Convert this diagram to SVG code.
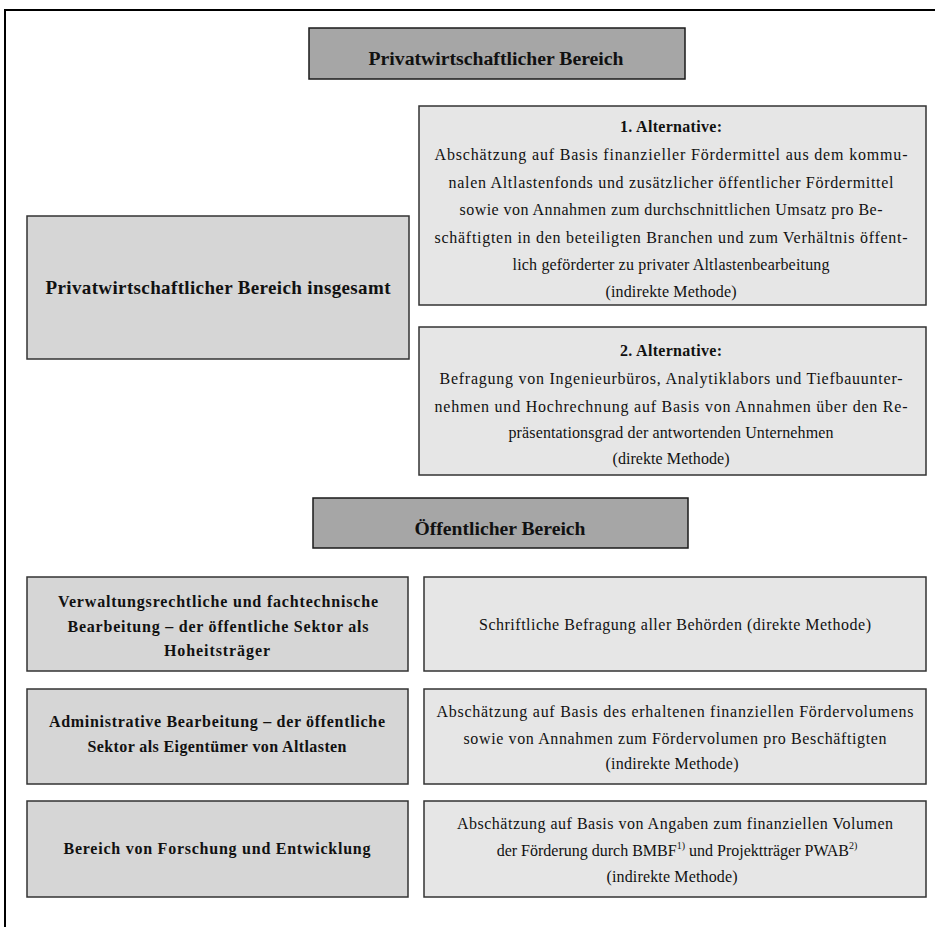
<svg xmlns="http://www.w3.org/2000/svg" width="935" height="927" viewBox="0 0 935 927">
  <style>
    .frame { fill: none; stroke: #000; stroke-width: 2; }
    .hdr { fill: #a6a6a6; stroke: #1a1a1a; stroke-width: 1.5; }
    .lft { fill: #d6d6d6; stroke: #333; stroke-width: 1.5; }
    .rgt { fill: #e6e6e6; stroke: #333; stroke-width: 1.5; }
    .h, .big, .b, .t { font-family: "Liberation Serif", serif; fill: #111; text-anchor: middle; }
    .h { font-size: 18px; font-weight: bold; }
    .big { font-size: 19px; font-weight: bold; }
    .b { font-size: 16px; font-weight: bold; }
    .t { font-size: 16px; }
    .sup { font-size: 10px; }
  </style>

  <!-- page frame (only top and left edges fall inside the sheet) -->
  <path class="frame" d="M5,927 V10 H935"/>

  <g id="hdr-privat" font-family="Liberation Serif">
    <rect class="hdr" x="309" y="28" width="376" height="51"/>
    <text class="h" x="496" y="65" font-family="Liberation Serif" textLength="255" lengthAdjust="spacingAndGlyphs">Privatwirtschaftlicher Bereich</text>
  </g>

  <g id="privat-gesamt" font-family="Liberation Serif">
    <rect class="lft" x="27" y="216" width="382" height="143"/>
    <text class="big" x="218" y="294" font-family="Liberation Serif" textLength="345" lengthAdjust="spacing">Privatwirtschaftlicher Bereich insgesamt</text>
  </g>

  <g id="alt1" font-family="Liberation Serif">
    <rect class="rgt" x="419" y="106" width="507" height="199"/>
    <text class="b" x="671" y="132" textLength="102" lengthAdjust="spacing">1. Alternative:</text>
    <text class="t" x="671" y="160" textLength="473" lengthAdjust="spacing">Abschätzung auf Basis finanzieller Fördermittel aus dem kommu-</text>
    <text class="t" x="671" y="188" textLength="445" lengthAdjust="spacing">nalen Altlastenfonds und zusätzlicher öffentlicher Fördermittel</text>
    <text class="t" x="671" y="215" textLength="423" lengthAdjust="spacing">sowie von Annahmen zum durchschnittlichen Umsatz pro Be-</text>
    <text class="t" x="671" y="243" textLength="473" lengthAdjust="spacing">schäftigten in den beteiligten Branchen und zum Verhältnis öffent-</text>
    <text class="t" x="671" y="270" textLength="317" lengthAdjust="spacing">lich geförderter zu privater Altlastenbearbeitung</text>
    <text class="t" x="671" y="297" textLength="131" lengthAdjust="spacing">(indirekte Methode)</text>
  </g>

  <g id="alt2" font-family="Liberation Serif">
    <rect class="rgt" x="419" y="327" width="507" height="148"/>
    <text class="b" x="671" y="356" textLength="102" lengthAdjust="spacing">2. Alternative:</text>
    <text class="t" x="671" y="384" textLength="463" lengthAdjust="spacing">Befragung von Ingenieurbüros, Analytiklabors und Tiefbauunter-</text>
    <text class="t" x="671" y="412" textLength="473" lengthAdjust="spacing">nehmen und Hochrechnung auf Basis von Annahmen über den Re-</text>
    <text class="t" x="671" y="438" textLength="325" lengthAdjust="spacing">präsentationsgrad der antwortenden Unternehmen</text>
    <text class="t" x="671" y="464" textLength="117" lengthAdjust="spacing">(direkte Methode)</text>
  </g>

  <g id="hdr-oeffentlich" font-family="Liberation Serif">
    <rect class="hdr" x="313" y="498" width="375" height="50"/>
    <text class="h" x="500" y="535" textLength="171" lengthAdjust="spacingAndGlyphs">Öffentlicher Bereich</text>
  </g>

  <g id="hoheit" font-family="Liberation Serif">
    <rect class="lft" x="27" y="577" width="381" height="94"/>
    <text class="b" x="218" y="607" textLength="320" lengthAdjust="spacing">Verwaltungsrechtliche und fachtechnische</text>
    <text class="b" x="218" y="632" textLength="301" lengthAdjust="spacing">Bearbeitung  – der öffentliche Sektor als</text>
    <text class="b" x="217" y="656" textLength="106" lengthAdjust="spacing">Hoheitsträger</text>
  </g>

  <g id="hoheit-methode" font-family="Liberation Serif">
    <rect class="rgt" x="424" y="577" width="502" height="94"/>
    <text class="t" x="675" y="630" textLength="392" lengthAdjust="spacing">Schriftliche Befragung aller Behörden (direkte Methode)</text>
  </g>

  <g id="eigentuemer" font-family="Liberation Serif">
    <rect class="lft" x="27" y="689" width="381" height="95"/>
    <text class="b" x="217" y="727" textLength="336" lengthAdjust="spacing">Administrative Bearbeitung – der öffentliche</text>
    <text class="b" x="217" y="752" textLength="259" lengthAdjust="spacing">Sektor als Eigentümer von Altlasten</text>
  </g>

  <g id="eigentuemer-methode" font-family="Liberation Serif">
    <rect class="rgt" x="424" y="689" width="502" height="95"/>
    <text class="t" x="675" y="717" textLength="477" lengthAdjust="spacing">Abschätzung auf Basis des erhaltenen finanziellen Fördervolumens</text>
    <text class="t" x="675" y="744" textLength="423" lengthAdjust="spacing">sowie von Annahmen zum Fördervolumen pro Beschäftigten</text>
    <text class="t" x="672" y="769" textLength="133" lengthAdjust="spacing">(indirekte Methode)</text>
  </g>

  <g id="fue" font-family="Liberation Serif">
    <rect class="lft" x="27" y="801" width="381" height="96"/>
    <text class="b" x="217" y="854" textLength="307" lengthAdjust="spacing">Bereich von Forschung und Entwicklung</text>
  </g>

  <g id="fue-methode" font-family="Liberation Serif">
    <rect class="rgt" x="424" y="801" width="502" height="96"/>
    <text class="t" x="675" y="829" textLength="436" lengthAdjust="spacing">Abschätzung auf Basis von Angaben zum finanziellen Volumen</text>
    <text class="t" x="677" y="856">der Förderung durch BMBF<tspan class="sup" dy="-7">1)</tspan><tspan dy="7"> und Projektträger PWAB</tspan><tspan class="sup" dy="-7">2)</tspan></text>
    <text class="t" x="672" y="882" textLength="131" lengthAdjust="spacing">(indirekte Methode)</text>
  </g>

  <!-- no connectors in this chart -->
  <g id="connectors"/>
</svg>
